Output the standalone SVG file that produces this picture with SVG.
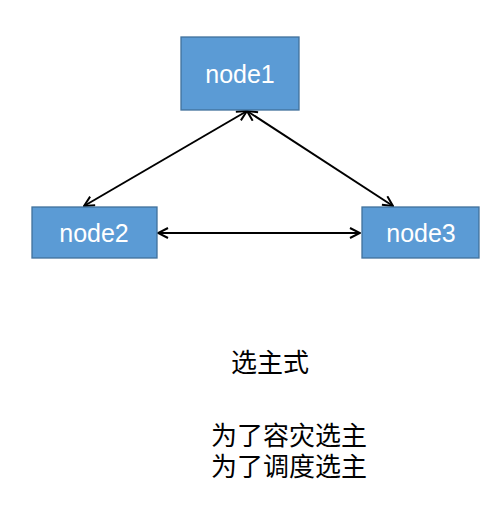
<svg xmlns="http://www.w3.org/2000/svg" width="503" height="522" viewBox="0 0 503 522">
<style>
.box{fill:#5B9BD5;stroke:#41719C;stroke-width:1.3}
.lbl{font-family:"Liberation Sans",Arial,sans-serif;font-size:25px;fill:#fff;text-anchor:middle;dominant-baseline:central}
.cn{font-family:"Liberation Sans","Noto Sans CJK SC",sans-serif;font-size:26px;fill:#000;dominant-baseline:central}
.conn{stroke:#000;stroke-width:2;fill:none;marker-start:url(#ah);marker-end:url(#ah)}
</style>
<defs>
<marker id="ah" viewBox="0 0 12 12" refX="11" refY="6" markerWidth="12" markerHeight="12" markerUnits="userSpaceOnUse" orient="auto-start-reverse">
<path d="M1,1 L11,6 L1,11" fill="none" stroke="#000" stroke-width="2"/>
</marker>
</defs>
<rect width="503" height="522" fill="#fff"/>
<g id="connectors">
<line class="conn" x1="247" y1="111" x2="84" y2="206"/>
<line class="conn" x1="247" y1="111" x2="393" y2="206"/>
<line class="conn" x1="158" y1="233" x2="360" y2="233"/>
</g>
<g id="node1"><rect class="box" x="181" y="37" width="118" height="73"/><text class="lbl" x="240" y="74">node1</text></g>
<g id="node2"><rect class="box" x="32" y="207" width="125" height="51"/><text class="lbl" x="94" y="233">node2</text></g>
<g id="node3"><rect class="box" x="362" y="207" width="117" height="51"/><text class="lbl" x="421" y="233">node3</text></g>
<g id="notes">
<text class="cn" x="231" y="363">选主式</text>
<text class="cn" x="211" y="436">为了容灾选主</text>
<text class="cn" x="211" y="467">为了调度选主</text>
</g>
</svg>
